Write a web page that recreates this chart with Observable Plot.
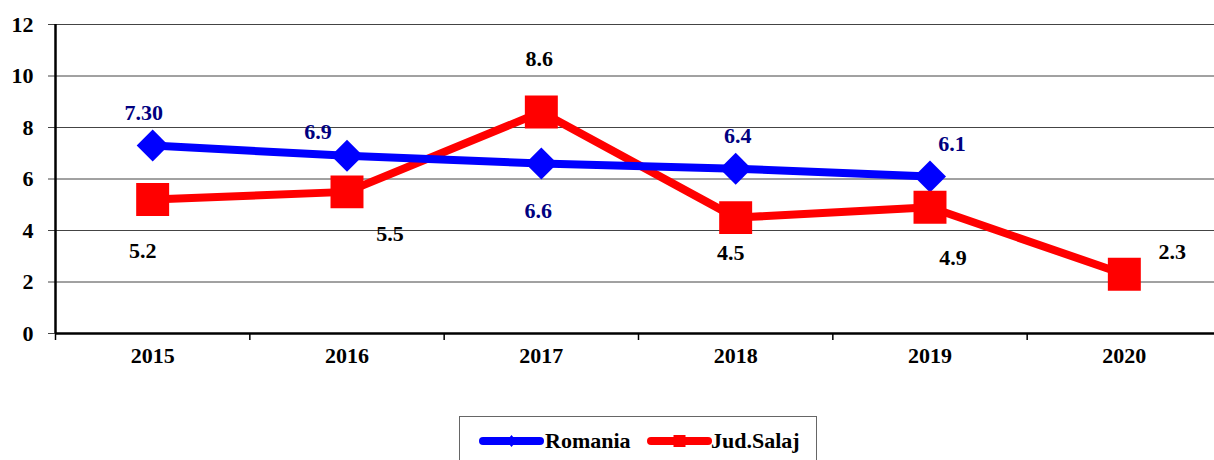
<!DOCTYPE html>
<html>
<head>
<meta charset="utf-8">
<script src="https://cdn.jsdelivr.net/npm/d3@7"></script>
<script src="https://cdn.jsdelivr.net/npm/@observablehq/plot@0.6"></script>
<style>
  html, body { margin: 0; padding: 0; background: #fff; }
  body { position: relative; width: 1214px; height: 460px; overflow: hidden; font-family: "Liberation Serif", "Times New Roman", serif; }
  #legend { position: absolute; left: 459px; top: 416px; }
</style>
</head>
<body>
<div id="chart"></div>
<div id="legend"></div>
<script>
const years = [2015, 2016, 2017, 2018, 2019, 2020];
const romania = [7.3, 6.9, 6.6, 6.4, 6.1, null];
const salaj = [5.2, 5.5, 8.6, 4.5, 4.9, 2.3];
const romaniaLabels = ["7.30", "6.9", "6.6", "6.4", "6.1", null];
const salajLabels = ["5.2", "5.5", "8.6", "4.5", "4.9", "2.3"];
const yTicks = [0, 2, 4, 6, 8, 10, 12];
const seriesNames = ["Romania", "Jud.Salaj"];

// label placement (layout only)
const romaniaDx = [-9, -29, -3, 2, 22];
const romaniaDy = [-33, -24, 47, -33, -32];
const salajDx = [-10, 43, -2, -5, 23, 48];
const salajDy = [51, 42, -53, 35, 51, -22];

const romData = years.map((y, i) => ({year: y, value: romania[i], label: romaniaLabels[i], i}));
const salData = years.map((y, i) => ({year: y, value: salaj[i], label: salajLabels[i], i}));

const font = {fontSize: 22, fontWeight: "bold", fontFamily: "Liberation Serif"};
const boundaries = [years[0] - 0.5, ...years.map(y => y + 0.5)];

const romLabelMarks = romData.filter(d => d.value != null).map(d =>
  Plot.text([d], {x: "year", y: "value", text: "label", dx: romaniaDx[d.i], dy: romaniaDy[d.i], fill: "#000080", ...font})
);
const salLabelMarks = salData.map(d =>
  Plot.text([d], {x: "year", y: "value", text: "label", dx: salajDx[d.i], dy: salajDy[d.i], fill: "#000", ...font})
);

const chart = Plot.plot({
  width: 1214,
  height: 400,
  marginLeft: 55,
  marginRight: 0,
  marginTop: 24,
  marginBottom: 67,
  style: {fontFamily: "Liberation Serif", color: "#000", background: "#fff", overflow: "visible"},
  x: {domain: [years[0] - 0.5, years[years.length - 1] + 0.5], range: [55, 1221]},
  y: {domain: [0, 12]},
  marks: [
    Plot.ruleY(yTicks.filter(t => t > 0), {stroke: "#444", strokeWidth: 1}),
    Plot.axisY({ticks: yTicks, tickSize: 7, tickPadding: 15, stroke: "#444", label: null, ...font}),
    Plot.axisX({ticks: years, tickSize: 0, tickPadding: 14, tickFormat: d => String(d), label: null, ...font}),
    Plot.axisX({ticks: boundaries, tickSize: 7, tickFormat: () => "", label: null, stroke: "#000", strokeWidth: 1.5}),
    Plot.ruleY([0], {stroke: "#000", strokeWidth: 2.5}),
    Plot.ruleX([years[0] - 0.5], {y1: 0, y2: 12, stroke: "#000", strokeWidth: 2.5}),
    Plot.line(salData, {x: "year", y: "value", stroke: "#ff0000", strokeWidth: 8, strokeLinejoin: "miter"}),
    Plot.line(romData, {x: "year", y: "value", stroke: "#0000ff", strokeWidth: 8, strokeLinejoin: "miter"}),
    Plot.dot(romData.filter(d => d.value != null), {x: "year", y: "value", symbol: "diamond2", r: 14.4, fill: "#0000ff", stroke: "none"}),
    Plot.dot(salData, {x: "year", y: "value", symbol: "square", r: 18.6, fill: "#ff0000", stroke: "none"}),
    ...romLabelMarks,
    ...salLabelMarks
  ]
});
document.getElementById("chart").appendChild(chart);

// legend
const lg = d3.select("#legend").append("svg").attr("width", 360).attr("height", 46);
lg.append("rect").attr("x", 0.5).attr("y", 0.5).attr("width", 357).attr("height", 60)
  .attr("fill", "#fff").attr("stroke", "#666").attr("stroke-width", 1);
const items = [
  {name: seriesNames[0], color: "#0000ff", x0: 24, x1: 81, tx: 86, shape: "diamond"},
  {name: seriesNames[1], color: "#ff0000", x0: 192, x1: 249, tx: 252, shape: "square"}
];
items.forEach(it => {
  lg.append("line").attr("x1", it.x0).attr("x2", it.x1).attr("y1", 25).attr("y2", 25)
    .attr("stroke", it.color).attr("stroke-width", 8).attr("stroke-linecap", "round");
  const cx = (it.x0 + it.x1) / 2;
  if (it.shape === "diamond") {
    lg.append("path").attr("d", `M${cx},${25-6}L${cx+5},25L${cx},${25+6}L${cx-5},25Z`).attr("fill", it.color);
  } else {
    lg.append("rect").attr("x", cx - 6).attr("y", 19).attr("width", 12).attr("height", 12).attr("fill", it.color);
  }
  lg.append("text").attr("x", it.tx).attr("y", 25).attr("dy", "0.34em")
    .attr("font-family", "Liberation Serif").attr("font-weight", "bold").attr("font-size", 22)
    .attr("fill", "#000").text(it.name);
});
</script>
</body>
</html>
